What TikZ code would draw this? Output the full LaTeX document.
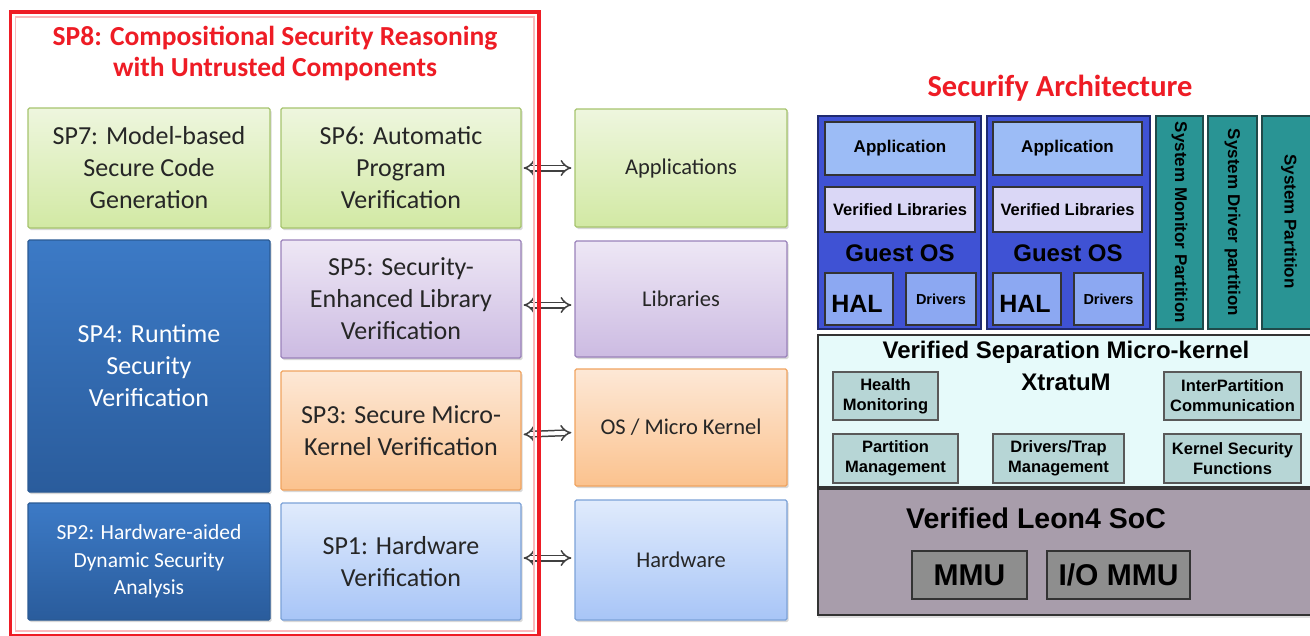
\documentclass[tikz,border=0pt]{standalone}
\usepackage{fontspec}
\setmainfont{Carlito}
\newfontfamily\arialfont{Liberation Sans}
\usetikzlibrary{arrows.meta,shadows}

% palette
\definecolor{grTop}{HTML}{EEF6DE}\definecolor{grBot}{HTML}{D2E9A4}\definecolor{grLine}{HTML}{A6C46E}
\definecolor{puTop}{HTML}{EEE7F5}\definecolor{puBot}{HTML}{CCBBE2}\definecolor{puLine}{HTML}{9A82BA}
\definecolor{orTop}{HTML}{FDE8D6}\definecolor{orBot}{HTML}{FBC28E}\definecolor{orLine}{HTML}{F0A460}
\definecolor{lbTop}{HTML}{E0EBFC}\definecolor{lbBot}{HTML}{A8C5F7}\definecolor{lbLine}{HTML}{7CA2D8}
\definecolor{dbTop}{HTML}{3C7AC6}\definecolor{dbBot}{HTML}{2A5C9C}\definecolor{dbLine}{HTML}{2A5A94}
\definecolor{titleRed}{HTML}{EE1C25}
\definecolor{guestBlue}{HTML}{3F52D4}\definecolor{guestLine}{HTML}{1F2A70}
\definecolor{appBlue}{HTML}{9CBCF6}\definecolor{halBlue}{HTML}{8CA8F2}\definecolor{libLav}{HTML}{DAD7F6}
\definecolor{tealPart}{HTML}{299494}\definecolor{tealLine}{HTML}{1F4A4A}
\definecolor{kernFill}{HTML}{E6FAFA}\definecolor{modFill}{HTML}{B7D6D6}
\definecolor{socFill}{HTML}{A89DAB}\definecolor{mmuFill}{HTML}{8E8E8E}
\definecolor{archLine}{HTML}{333333}

\begin{document}
\begin{tikzpicture}[x=1pt,y=-1pt,
  spbox/.style={draw, line width=1.2pt, rounded corners=1.5pt, align=center,
    inner sep=0pt, font=\fontsize{26}{32}\selectfont, text=black!85,
    drop shadow={shadow xshift=1.5pt, shadow yshift=-2pt, opacity=0.3}},
  layerbox/.style={spbox, font=\fontsize{22.5}{28}\selectfont},
  green/.style={top color=grTop, bottom color=grBot, draw=grLine},
  purple/.style={top color=puTop, bottom color=puBot, draw=puLine},
  orange/.style={top color=orTop, bottom color=orBot, draw=orLine},
  lightblue/.style={top color=lbTop, bottom color=lbBot, draw=lbLine},
  darkblue/.style={top color=dbTop, bottom color=dbBot, draw=dbLine, text=white},
  dbl/.style={draw=black!75, double=white, double distance=4pt, line width=1.5pt,
    {Implies[scale=1.8]}-{Implies[scale=1.8]}, shorten <=2pt, shorten >=3pt},
  redtitle/.style={text=titleRed, font=\bfseries\fontsize{27.5}{31}\selectfont, align=center},
  arch/.style={draw=archLine, line width=1.2pt, inner sep=0pt, align=center,
    font=\arialfont\bfseries},
  guest/.style={arch, fill=guestBlue, draw=guestLine},
  appl/.style={arch, fill=appBlue, font=\arialfont\bfseries\fontsize{17}{20}\selectfont},
  vlib/.style={arch, fill=libLav, font=\arialfont\bfseries\fontsize{16.5}{20}\selectfont},
  hal/.style={arch, fill=halBlue},
  syspart/.style={arch, fill=tealPart, draw=tealLine},
  vtext/.style={rotate=-90, font=\arialfont\bfseries\fontsize{17}{20}\selectfont},
  module/.style={arch, fill=modFill, draw=black!65,
    font=\arialfont\bfseries\fontsize{16.5}{20}\selectfont},
  mmu/.style={arch, fill=mmuFill, font=\arialfont\bfseries\fontsize{30}{34}\selectfont}
]
\useasboundingbox (0,0) rectangle (1310,635);
\fill[white] (0,0) rectangle (1310,635);

% ---------------- research sub-projects ----------------
\node[redtitle] (sp8) at (275,53) {SP8: Compositional Security Reasoning\\with Untrusted Components};

\node[spbox, green, minimum width=242, minimum height=120] (sp7) at (149,168)
  {SP7: Model-based\\Secure Code\\Generation};
\node[spbox, green, minimum width=240, minimum height=120] (sp6) at (401,168)
  {SP6: Automatic\\Program\\Verification};
\node[spbox, darkblue, minimum width=242, minimum height=252] (sp4) at (149,366)
  {SP4: Runtime\\Security\\Verification};
\node[spbox, purple, minimum width=240, minimum height=118] (sp5) at (401,299)
  {SP5: Security-\\Enhanced Library\\Verification};
\node[spbox, orange, minimum width=240, minimum height=119] (sp3) at (401,430.5)
  {SP3: Secure Micro-\\Kernel Verification};
\node[spbox, darkblue, minimum width=242, minimum height=117,
  font=\fontsize{21.5}{27.5}\selectfont] (sp2) at (149,561.5)
  {SP2: Hardware-aided\\Dynamic Security\\Analysis};
\node[spbox, lightblue, minimum width=240, minimum height=117] (sp1) at (401,561.5)
  {SP1: Hardware\\Verification};

% ---------------- system layers ----------------
\node[layerbox, green, minimum width=212, minimum height=118] (apps) at (681,168) {Applications};
\node[layerbox, purple, minimum width=212, minimum height=116] (libs) at (681,299) {Libraries};
\node[layerbox, orange, minimum width=212, minimum height=117] (oskern) at (681,427.5) {OS / Micro Kernel};
\node[layerbox, lightblue, minimum width=212, minimum height=120] (hw) at (681,560) {Hardware};

\draw[dbl] (sp6.east) -- (apps.west);
\draw[dbl] ([yshift=-6pt]sp5.east) -- ([yshift=-6pt]libs.west);
\draw[dbl] ([yshift=-4pt]sp3.east) -- ([yshift=-5pt]oskern.west);
\draw[dbl] ([yshift=3.5pt]sp1.east) -- ([yshift=2pt]hw.west);

% frame around the sub-projects
\draw[titleRed, line width=3.6pt] (10.5,12) rectangle (539,636);
\draw[titleRed!30, line width=1.8pt] (15.5,17) rectangle (534,631);

% ---------------- Securify architecture ----------------
\node[text=titleRed, font=\bfseries\fontsize{30.5}{34}\selectfont] (archtitle) at (1060,88)
  {Securify Architecture};

% guest partitions
\node[guest, minimum width=163, minimum height=213] (g1) at (899.5,222.5) {};
\node[appl, minimum width=150, minimum height=53] (app1) at (900,148.5) {Application};
\node[vlib, minimum width=150, minimum height=45] (vl1) at (900,209.5) {Verified Libraries};
\node[font=\arialfont\bfseries\fontsize{24}{26}\selectfont, text=black] (gos1) at (900,253) {Guest OS};
\node[hal, minimum width=68, minimum height=52] (hal1) at (859,299) {};
\node[font=\arialfont\bfseries\fontsize{25}{26}\selectfont] (hal1t) at (857,304) {HAL};
\node[hal, minimum width=70, minimum height=52, font=\arialfont\bfseries\fontsize{14.5}{16}\selectfont]
  (drv1) at (941,299) {Drivers};

\node[guest, minimum width=163, minimum height=213] (g2) at (1068.5,222.5) {};
\node[appl, minimum width=149, minimum height=53] (app2) at (1067.5,148.5) {Application};
\node[vlib, minimum width=149, minimum height=45] (vl2) at (1067.5,209.5) {Verified Libraries};
\node[font=\arialfont\bfseries\fontsize{24}{26}\selectfont, text=black] (gos2) at (1068,253) {Guest OS};
\node[hal, minimum width=68, minimum height=52] (hal2) at (1027,299) {};
\node[font=\arialfont\bfseries\fontsize{25}{26}\selectfont] (hal2t) at (1025,304) {HAL};
\node[hal, minimum width=69, minimum height=52, font=\arialfont\bfseries\fontsize{14.5}{16}\selectfont]
  (drv2) at (1108.5,299) {Drivers};

% system partitions
\node[syspart, minimum width=47, minimum height=213] (smp) at (1179.5,222.5) {};
\node[vtext] (smpt) at (1179.5,222.5) {System Monitor Partition};
\node[syspart, minimum width=49, minimum height=213] (sdp) at (1232.5,222.5) {};
\node[vtext] (sdpt) at (1232.5,222.5) {System Driver partition};
\node[syspart, minimum width=56, minimum height=213] (spp) at (1290,222.5) {};
\node[vtext] (sppt) at (1289,221.5) {System Partition};

% separation micro-kernel
\node[arch, fill=kernFill, minimum width=500, minimum height=152] (kern) at (1068,411) {};
\node[font=\arialfont\bfseries\fontsize{24}{26}\selectfont] (kernt) at (1066,352)
  {Verified Separation Micro-kernel};
\node[font=\arialfont\bfseries\fontsize{24}{26}\selectfont] (xtm) at (1066,382) {XtratuM};
\node[module, minimum width=105, minimum height=48] (hm) at (885.5,396) {Health\\Monitoring};
\node[module, minimum width=137, minimum height=48] (ipc) at (1232.5,396) {InterPartition\\Communication};
\node[module, minimum width=125, minimum height=49] (pm) at (895.5,458.5) {Partition\\Management};
\node[module, minimum width=131, minimum height=49] (dtm) at (1058.5,458.5) {Drivers/Trap\\Management};
\node[module, minimum width=137, minimum height=49] (ksf) at (1232.5,458.5) {Kernel Security\\Functions};

% hardware platform
\node[arch, fill=socFill, minimum width=500, minimum height=126,
  drop shadow={shadow xshift=0pt, shadow yshift=-3pt, opacity=0.25}] (soc) at (1068,552) {};
\node[font=\arialfont\bfseries\fontsize{28.5}{30}\selectfont] (soct) at (1036,518) {Verified Leon4 SoC};
\node[mmu, minimum width=115, minimum height=48] (mmu1) at (969.5,575) {MMU};
\node[mmu, minimum width=143, minimum height=48] (mmu2) at (1118.5,575) {I/O MMU};
\end{tikzpicture}
\end{document}
